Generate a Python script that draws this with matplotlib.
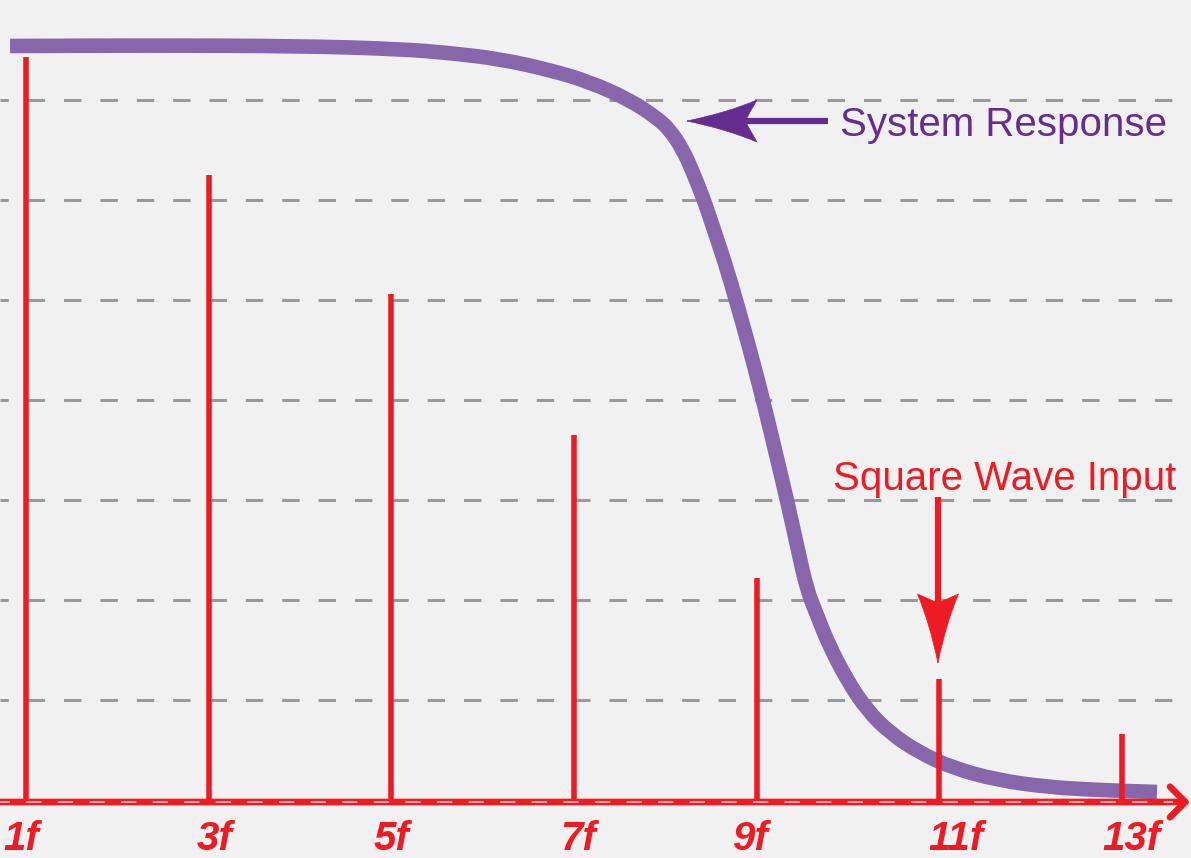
import matplotlib
matplotlib.use("Agg")
import matplotlib.pyplot as plt
from matplotlib.patches import PathPatch
from matplotlib.path import Path
from matplotlib.transforms import ScaledTranslation

# ---- data ----
harmonics = [1, 3, 5, 7, 9, 11, 13]
amplitudes = [7.43, 6.25, 5.06, 3.65, 2.22, 1.21, 0.66]
tick_labels = ["1f", "3f", "5f", "7f", "9f", "11f", "13f"]

resp_x = [0.825, 2.358, 4.000, 5.095, 5.642, 6.190, 6.737, 7.175, 7.613, 7.909,
          8.051, 8.194, 8.292, 8.424, 8.533, 8.654, 8.774, 8.927,
          9.070, 9.201, 9.332, 9.453, 9.551, 9.661, 9.781, 9.989, 10.208,
          10.460, 10.788, 11.150, 11.632, 12.179, 12.727, 13.384]
resp_y = [7.54, 7.545, 7.54, 7.51, 7.47, 7.41, 7.30, 7.18, 7.00, 6.82,
          6.70, 6.50, 6.30, 6.00, 5.70, 5.37, 5.00, 4.50,
          4.00, 3.50, 3.00, 2.50, 2.10, 1.85, 1.57, 1.20, 0.90,
          0.67, 0.47, 0.32, 0.20, 0.13, 0.10, 0.08]

grid_levels = [1, 2, 3, 4, 5, 6, 7]

RED = "#ed1c24"
PURPLE_CURVE = "#8766ac"
PURPLE_TEXT = "#662d91"
GRID = "#9a9a9a"
BG = "#f1f1f1"

fig = plt.figure(figsize=(11.91, 8.58), dpi=100, facecolor=BG)
ax = fig.add_axes([0, 0, 1, 1])
ax.set_facecolor(BG)
ax.set_xlim(0.715, 13.756)
ax.set_ylim(-0.58, 8.0)
ax.axis("off")

# dashed gridlines
for g in grid_levels:
    ax.axhline(g, color=GRID, lw=2.2, linestyle=(3, (5.7, 6.2)), zorder=1)

# system response curve: smooth quadratic path through midpoints of the read points
pts = list(zip(resp_x, resp_y))
verts = [pts[0]]
codes = [Path.MOVETO]
mid = lambda a, b: ((a[0] + b[0]) / 2.0, (a[1] + b[1]) / 2.0)
verts.append(mid(pts[0], pts[1]))
codes.append(Path.LINETO)
for i in range(1, len(pts) - 1):
    verts += [pts[i], mid(pts[i], pts[i + 1])]
    codes += [Path.CURVE3, Path.CURVE3]
verts.append(pts[-1])
codes.append(Path.LINETO)
ax.add_patch(PathPatch(Path(verts, codes), facecolor="none", edgecolor=PURPLE_CURVE,
                       lw=10.5, capstyle="butt", joinstyle="round", zorder=2))

# spikes
ax.vlines(harmonics, 0, amplitudes, color=RED, lw=4.0, zorder=3)

# baseline with open arrow
ax.annotate("", xy=(13.745, -0.02), xytext=(0.715, -0.02),
            arrowprops=dict(arrowstyle="->,head_length=0.55,head_width=0.55",
                            color=RED, lw=4.8, shrinkA=0, shrinkB=0,
                            mutation_scale=20),
            zorder=4)
ax.axhline(-0.02, color="#eab0b2", lw=1.3, linestyle=(3, (8.5, 9.0)), zorder=5,
           xmax=0.985)

# tick labels (small per-label horizontal nudges in pixels)
label_nudge_px = [-5, 6, 0, 4, -7, 17, 9]
for h, lab, dx in zip(harmonics, tick_labels, label_nudge_px):
    ax.text(h + dx / 91.33, -0.50, lab, color=RED, fontsize=29, fontweight="bold",
            fontstyle="italic", family="Liberation Sans", ha="center", va="baseline",
            zorder=6)


def arrow_head(tip, along, across, length, notch, half_w, color):
    """Slightly concave arrow head; vertices in pixels relative to the tip."""
    def p(a, b):
        return ((a * along[0] + b * across[0]) / 100.0,
                (a * along[1] + b * across[1]) / 100.0)
    verts_h = [p(0, 0), p(length * 0.58, half_w * 0.40), p(length, half_w),
               p(notch, 0), p(length, -half_w), p(length * 0.58, -half_w * 0.40),
               p(0, 0)]
    codes_h = [Path.MOVETO, Path.CURVE3, Path.CURVE3, Path.LINETO, Path.LINETO,
               Path.CURVE3, Path.CURVE3]
    tr = fig.dpi_scale_trans + ScaledTranslation(tip[0], tip[1], ax.transData)
    ax.add_patch(PathPatch(Path(verts_h, codes_h), transform=tr, facecolor=color,
                           edgecolor=color, lw=0.5, zorder=7))


# System Response annotation
sr_tip = (8.237, 6.79)
ax.plot([8.873, 9.781], [6.79, 6.79], color=PURPLE_TEXT, lw=4.5,
        solid_capstyle="butt", zorder=7)
arrow_head(sr_tip, (1, 0), (0, 1), 70, 58, 21, PURPLE_TEXT)
ax.text(9.91, 6.645, "System Response", color=PURPLE_TEXT, fontsize=29,
        family="Liberation Sans", ha="left", va="baseline", zorder=7)

# Square Wave Input annotation
sq_tip = (10.985, 1.37)
ax.plot([10.985, 10.985], [3.03, 1.95], color=RED, lw=4.5,
        solid_capstyle="butt", zorder=7)
arrow_head(sq_tip, (0, 1), (1, 0), 69, 60, 20.5, RED)
ax.text(9.836, 3.105, "Square Wave Input", color=RED, fontsize=29,
        family="Liberation Sans", ha="left", va="baseline", zorder=7)

fig.savefig("out.png", dpi=100, facecolor=BG)
